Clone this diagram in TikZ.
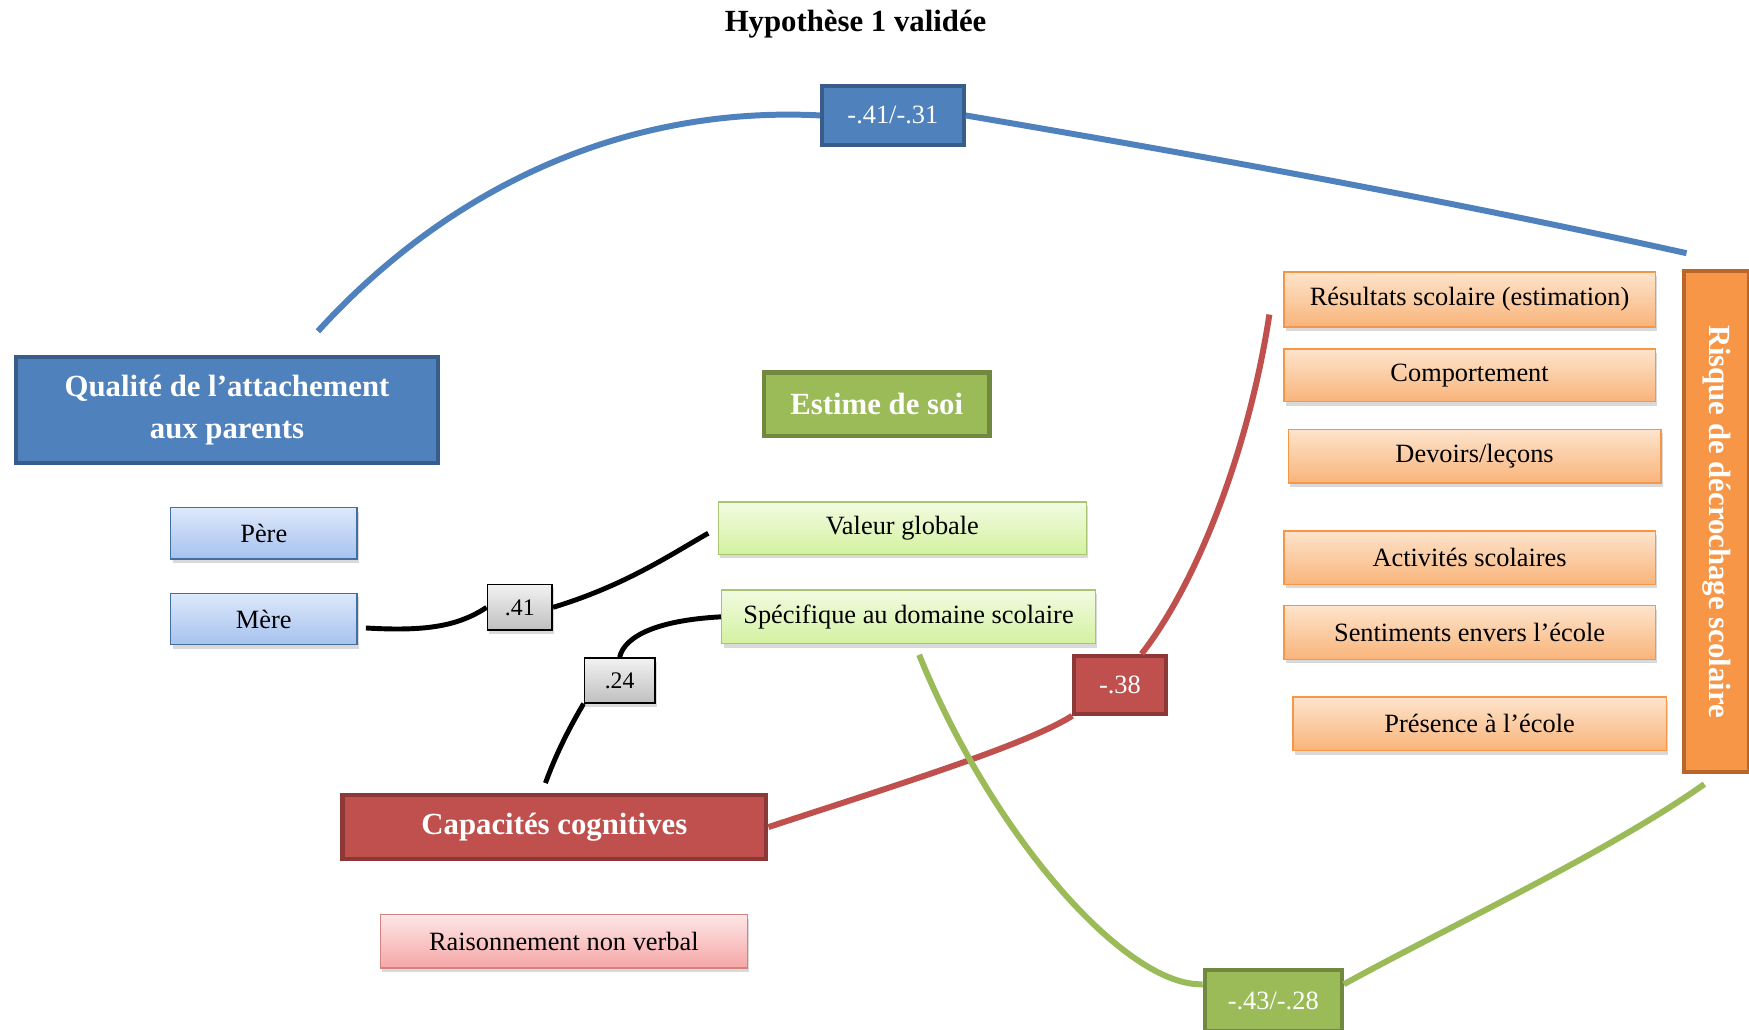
\documentclass[tikz,border=0pt]{standalone}
\usepackage{fontspec}
\setmainfont{Liberation Serif}
\usetikzlibrary{shadows}
% Couleurs
\definecolor{bleuF}{HTML}{4F81BD}
\definecolor{bleuB}{HTML}{385D8A}
\definecolor{vertF}{HTML}{9BBB59}
\definecolor{vertB}{HTML}{71893F}
\definecolor{rougeF}{HTML}{C0504D}
\definecolor{rougeB}{HTML}{8C3836}
\definecolor{orangeF}{HTML}{F79646}
\definecolor{orangeB}{HTML}{B8662A}
\definecolor{bleuH}{HTML}{DDE8FB}
\definecolor{bleuBas}{HTML}{A6C2EE}
\definecolor{vertH}{HTML}{F2FBE2}
\definecolor{vertBas}{HTML}{D3F2A0}
\definecolor{orangeH}{HTML}{FDE4CC}
\definecolor{orangeBas}{HTML}{F9B47A}
\definecolor{roseH}{HTML}{FDE6E6}
\definecolor{roseBas}{HTML}{F6A6A6}
\tikzset{
  taille/.style 2 args={minimum width=#1*0.0223cm, minimum height=#2*0.0223cm},
  boite/.style={draw, inner sep=0pt, align=center},
  ombre/.style={drop shadow={opacity=0.3, shadow xshift=0.4mm, shadow yshift=-0.8mm}},
  fonce/.style={boite, line width=2.4pt, text=white, font=\fontsize{17.5}{24}\selectfont\bfseries},
  clair/.style={boite, ombre, line width=0.8pt, font=\fontsize{15}{18}\selectfont},
  parent/.style={clair, top color=bleuH, bottom color=bleuBas, draw=bleuF!85!black},
  estime/.style={clair, top color=vertH, bottom color=vertBas, draw=vertF!85},
  risque/.style={clair, top color=orangeH, bottom color=orangeBas, draw=orangeF},
  valeur/.style={boite, line width=2.2pt, text=white, font=\fontsize{15}{18}\selectfont},
  coef/.style={boite, ombre, line width=1pt, top color=white!95!black, bottom color=black!25, font=\fontsize{13.5}{15}\selectfont},
  lien/.style={line width=3.4pt},
  lienN/.style={line width=2.8pt, black},
}
\begin{document}
\begin{tikzpicture}[x=0.0223cm, y=-0.0223cm]
  \useasboundingbox (0,0) rectangle (1568,923);
  % Titre
  \node[font=\fontsize{17.5}{20}\selectfont\bfseries] (titre) at (767,22) {Hypothèse 1 validée};
  % Variables principales
  \node[fonce, fill=bleuF, draw=bleuB, taille={379}{95}] (qual) at (203.5,367.5) {Qualité de l’attachement\\aux parents};
  \node[fonce, fill=vertF, draw=vertB, taille={202}{57}] (estime) at (786,362.5) {Estime de soi};
  \node[fonce, fill=rougeF, draw=rougeB, taille={380}{57}] (capac) at (497,741.5) {Capacités cognitives};
  \node[fonce, fill=orangeF, draw=orangeB, taille={449}{58}, rotate=-90] (risque) at (1539,467.5) {Risque de décrochage scolaire};
  % Dimensions
  \node[parent, taille={167}{46}] (pere) at (236.5,478) {Père};
  \node[parent, taille={167}{46}] (mere) at (236.5,555) {Mère};
  \node[estime, taille={330}{47}] (valglob) at (809,473.5) {Valeur globale};
  \node[estime, taille={335}{48}] (specif) at (814.5,553) {Spécifique au domaine scolaire};
  \node[clair, top color=roseH, bottom color=roseBas, draw=rougeF!70, taille={329}{48}] (raison) at (505.5,844) {Raisonnement non verbal};
  \node[risque, taille={333}{49}] (result) at (1317.5,268.5) {Résultats scolaire (estimation)};
  \node[risque, taille={333}{47}] (comport) at (1317.5,336.5) {Comportement};
  \node[risque, taille={334}{48}] (devoirs) at (1322,409) {Devoirs/leçons};
  \node[risque, taille={333}{48}] (activ) at (1317.5,500) {Activités scolaires};
  \node[risque, taille={333}{48}] (sentim) at (1317.5,567) {Sentiments envers l’école};
  \node[risque, taille={335}{48}] (presence) at (1326.5,649) {Présence à l’école};
  % Coefficients
  \node[valeur, fill=bleuF, draw=bleuB, taille={127}{53}] (cBleu) at (800.5,103.5) {-.41/-.31};
  \node[valeur, fill=rougeF, draw=rougeB, taille={82}{52}] (cRouge) at (1004,614) {-.38};
  \node[valeur, fill=vertF, draw=vertB, taille={123}{54}] (cVert) at (1141.5,897) {-.43/-.28};
  \node[coef, taille={58}{41}] (c41) at (466,544.5) {.41};
  \node[coef, taille={63}{40}] (c24) at (555.5,610) {.24};
  % Extrémités libres
  \coordinate (qA) at (285,297);
  \coordinate (qB) at (1512,227);
  \coordinate (qM) at (328,563);
  \coordinate (qV) at (635,478);
  \coordinate (qC) at (489,702);
  \coordinate (qR) at (1138,282);
  \coordinate (qS) at (824,587);
  \coordinate (qD) at (1528,703);
  % Liens
  \draw[lien, bleuF] (qA) .. controls (410,160) and (570,95) .. (cBleu.west);
  \draw[lien, bleuF] (cBleu.east) .. controls (1080,140) and (1300,180) .. (qB);
  \draw[lienN] (qM) .. controls (380,566) and (410,562) .. (c41.west);
  \draw[lienN] (c41.east) .. controls (560,525) and (600,498) .. (qV);
  \draw[lienN] (specif.west) .. controls (590,556) and (560,570) .. (c24.north);
  \draw[lienN] (c24.south west) .. controls (512,650) and (500,672) .. (qC);
  \draw[lien, rougeF] (capac.east) .. controls (800,705) and (920,668) .. (cRouge.south west);
  \draw[lien, rougeF] (cRouge.55) .. controls (1075,520) and (1120,400) .. (qR);
  \draw[lien, vertF] (qS) .. controls (890,750) and (1010,885) .. (cVert.167);
  \draw[lien, vertF] (cVert.13) .. controls (1300,830) and (1440,765) .. (qD);
\end{tikzpicture}
\end{document}
